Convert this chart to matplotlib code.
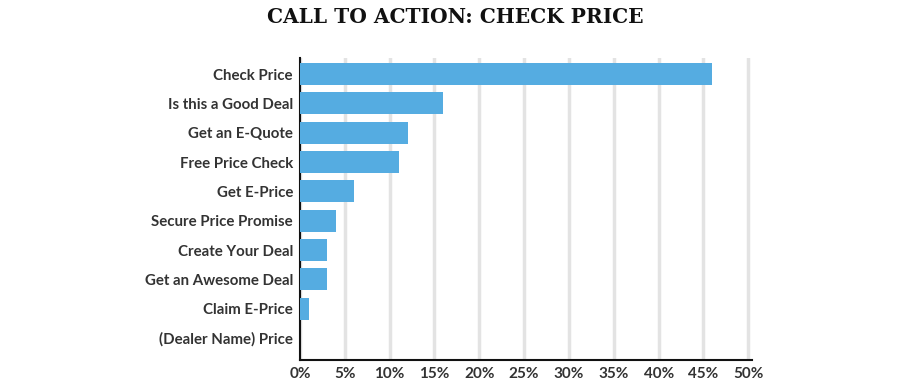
import matplotlib
matplotlib.use('Agg')
import matplotlib.pyplot as plt
from matplotlib.ticker import FuncFormatter

# Call-to-action phrases and their share (%)
labels = ['Check Price', 'Is this a Good Deal', 'Get an E-Quote', 'Free Price Check',
          'Get E-Price', 'Secure Price Promise', 'Create Your Deal',
          'Get an Awesome Deal', 'Claim E-Price', '(Dealer Name) Price']
values = [46, 16, 12, 11, 6, 4, 3, 3, 1, 0]
x_ticks = [0, 5, 10, 15, 20, 25, 30, 35, 40, 45, 50]

fig = plt.figure(figsize=(9.2, 3.86), dpi=100)
ax = fig.add_axes([0.326, 0.0674, 0.4913, 0.7826])

y = list(range(len(labels)))
ax.barh(y, values, height=0.75, color='#55ACE1', zorder=3)

ax.set_yticks(y)
ax.set_yticklabels(labels, fontsize=10.8, color='#333333', family='Lato', fontweight='bold')
ax.set_xticks(x_ticks)
ax.xaxis.set_major_formatter(FuncFormatter(lambda v, p: f'{v:.0f}%'))
for t in ax.get_xticklabels():
    t.set_fontsize(11)
    t.set_color('#333333')
    t.set_family('Lato')
    t.set_fontweight('bold')

ax.set_xlim(0, 50.4)
ax.set_ylim(9.75, -0.55)
ax.grid(axis='x', color='#e3e3e3', linewidth=2.5, zorder=0)
ax.tick_params(axis='y', length=0, pad=5)
ax.tick_params(axis='x', length=0, pad=5)
ax.spines['top'].set_visible(False)
ax.spines['right'].set_visible(False)
ax.spines['left'].set_color('#111111')
ax.spines['bottom'].set_color('#111111')
ax.spines['left'].set_linewidth(1.5)
ax.spines['bottom'].set_linewidth(1.5)

fig.text(0.495, 0.955, 'CALL TO ACTION: CHECK PRICE', ha='center', va='center',
         fontsize=14.5, fontweight='bold', family='DejaVu Serif', color='#111111')

plt.savefig('out.png', dpi=100)
